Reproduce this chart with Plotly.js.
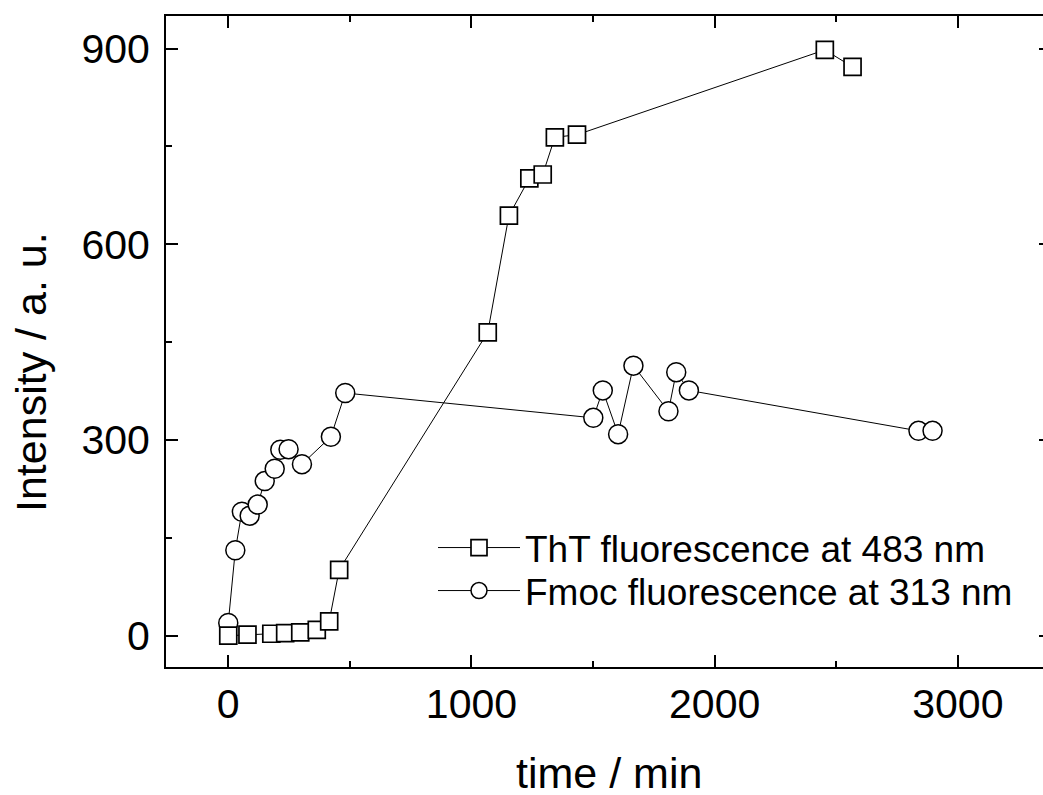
<!DOCTYPE html>
<html>
<head>
<meta charset="utf-8">
<script src="https://cdn.plot.ly/plotly-3.0.1.min.js"></script>
<style>
html,body{margin:0;padding:0;overflow:hidden;background:#fff;}
#chart{width:1060px;height:795px;}
</style>
</head>
<body>
<div id="chart"></div>
<script>
// ThT fluorescence at 483 nm
const thtTime = [0, 79, 177, 234, 296, 364, 415, 456, 1067, 1154, 1238, 1293, 1343, 1434, 2453, 2567];
const thtIntensity = [0, 1.5, 3, 4, 5, 9, 22, 101, 465, 644, 701, 707, 764, 768, 898, 872];
// Fmoc fluorescence at 313 nm
const fmocTime = [0, 29, 56, 88, 121, 150, 191, 214, 248, 303, 422, 481, 1501, 1540, 1603, 1666, 1810, 1842, 1894, 2838, 2896];
const fmocIntensity = [19.5, 131, 190, 184, 201, 237, 256, 285, 286, 263, 305, 372, 334, 376, 309, 414, 344, 404, 376, 314, 314];
const xTickVals = [0, 1000, 2000, 3000];
const yTickVals = [0, 300, 600, 900];
const seriesNames = ['ThT fluorescence at 483 nm', 'Fmoc fluorescence at 313 nm'];
const xTitle = 'time / min';
const yTitle = 'Intensity / a. u.';

const FONT = 'Liberation Sans, Arial, Helvetica, sans-serif';
const W = 1060, H = 795;
const L = 166, R = 9, T = 16, B = 128;
const pw = W - L - R, ph = H - T - B;
function px2x(p){ return (p - L) / pw; }
function py2y(p){ return (H - B - p) / ph; }

const traces = [
  {
    x: fmocTime, y: fmocIntensity, name: seriesNames[1],
    type: 'scatter', mode: 'lines+markers', legend: 'legend2',
    line: {color: '#000', width: 1},
    marker: {symbol: 'circle', size: 19, color: '#fff', line: {color: '#000', width: 1.5}},
    cliponaxis: false
  },
  {
    x: thtTime, y: thtIntensity, name: seriesNames[0],
    type: 'scatter', mode: 'lines+markers', legend: 'legend',
    line: {color: '#000', width: 1},
    marker: {symbol: 'square', size: 17, color: '#fff', line: {color: '#000', width: 1.7}},
    cliponaxis: false
  }
];

const axisCommon = {
  showline: true, linecolor: '#000', linewidth: 2, mirror: 'ticks',
  ticks: 'inside', ticklen: 12, tickwidth: 2, tickcolor: '#000',
  showgrid: false, zeroline: false,
  tickfont: {family: FONT, size: 41, color: '#000'}
};

const legendCommon = {
  xanchor: 'left', yanchor: 'middle',
  bgcolor: 'rgba(0,0,0,0)', borderwidth: 0,
  font: {family: FONT, size: 37, color: '#000'},
  itemwidth: 82, tracegroupgap: 0, itemclick: false, itemdoubleclick: false
};

const layout = {
  width: W, height: H,
  margin: {l: L, r: R, t: T, b: B, pad: 0},
  paper_bgcolor: '#fff', plot_bgcolor: '#fff',
  showlegend: true,
  xaxis: Object.assign({}, axisCommon, {
    range: [-256, 3383], tickvals: xTickVals, ticktext: xTickVals.map(String),
    ticklabelstandoff: 0,
    minor: {ticks: 'inside', ticklen: 6, tickwidth: 2, tickcolor: '#000', dtick: 500, tick0: 0}
  }),
  yaxis: Object.assign({}, axisCommon, {
    range: [-48, 950], tickvals: yTickVals, ticktext: yTickVals.map(String),
    ticklabelstandoff: 6,
    minor: {ticks: 'inside', ticklen: 6, tickwidth: 2, tickcolor: '#000', dtick: 150, tick0: 0}
  }),
  legend: Object.assign({}, legendCommon, {x: px2x(433), y: py2y(548)}),
  legend2: Object.assign({}, legendCommon, {x: px2x(433), y: py2y(591)}),
  annotations: [
    {text: xTitle, xref: 'paper', yref: 'paper', x: 0.5, y: py2y(773),
     xanchor: 'center', yanchor: 'middle', showarrow: false,
     font: {family: FONT, size: 43, color: '#000'}},
    {text: yTitle, xref: 'paper', yref: 'paper', x: px2x(31), y: py2y(372),
     xanchor: 'center', yanchor: 'middle', showarrow: false, textangle: -90,
     font: {family: FONT, size: 43, color: '#000'}}
  ]
};

Plotly.newPlot('chart', traces, layout, {displayModeBar: false, staticPlot: true});
</script>
</body>
</html>
